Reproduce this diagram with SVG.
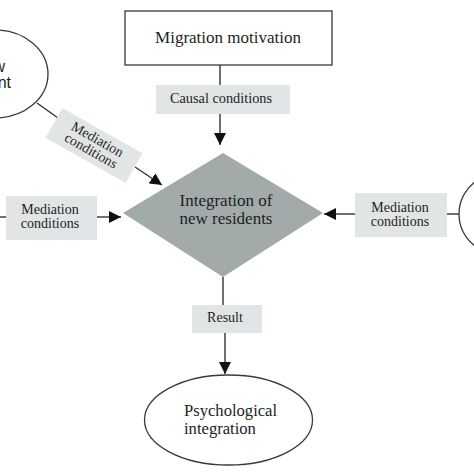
<svg xmlns="http://www.w3.org/2000/svg" width="474" height="474" viewBox="0 0 474 474">
<defs>
<style>
.bg{fill:#ffffff}
.node{fill:#ffffff;stroke:#3a3a3a;stroke-width:1.3}
.lbl{fill:#e2e5e5;stroke:none}
.dia{fill:#a3abaa;stroke:none}
.t{font-family:"Liberation Serif","Times New Roman",serif;fill:#1e1e1e}
.s{font-family:"Liberation Sans",Arial,sans-serif;fill:#1e1e1e}
.ln{stroke:#333333;stroke-width:1.4;fill:none}
</style>
<marker id="ah" markerUnits="userSpaceOnUse" markerWidth="12" markerHeight="12" refX="12" refY="6" orient="auto">
<path d="M0,0 L12,6 L0,12 z" fill="#111111"/>
</marker>
</defs>
<rect class="bg" x="0" y="0" width="474" height="474"/>

<g id="connectors">
<line class="ln" x1="220" y1="65" x2="220" y2="85"/>
<line class="ln" x1="220" y1="114" x2="220" y2="145" marker-end="url(#ah)"/>
<line class="ln" x1="37" y1="103" x2="58" y2="118"/>
<line class="ln" x1="135" y1="167" x2="162" y2="185" marker-end="url(#ah)"/>
<line class="ln" x1="0" y1="217" x2="6" y2="217"/>
<line class="ln" x1="97" y1="217" x2="121" y2="217" marker-end="url(#ah)"/>
<line class="ln" x1="447" y1="214" x2="459" y2="214"/>
<line class="ln" x1="355" y1="214" x2="324" y2="214" marker-end="url(#ah)"/>
<line class="ln" x1="223" y1="277" x2="223" y2="305"/>
<line class="ln" x1="225" y1="333" x2="225" y2="374" marker-end="url(#ah)"/>
</g>

<g id="migration-motivation">
<rect class="node" x="125" y="11" width="207" height="54"/>
<text class="t" x="228" y="43" font-size="17" text-anchor="middle">Migration motivation</text>
</g>

<g id="causal-conditions">
<rect class="lbl" x="156" y="85" width="134" height="29"/>
<text class="t" x="221" y="103" font-size="14.3" text-anchor="middle">Causal conditions</text>
</g>

<g id="left-ellipse">
<ellipse class="node" cx="-5" cy="74" rx="53" ry="44"/>
<text class="s" x="5" y="72" font-size="16" text-anchor="end">w</text>
<text class="s" x="11" y="88" font-size="16" text-anchor="end">nt</text>
</g>

<g id="mediation-tilted" transform="translate(94,145.5) rotate(29.5)">
<rect class="lbl" x="-46" y="-17" width="92" height="34"/>
<text class="t" x="0" y="-2.5" font-size="14" text-anchor="middle">Mediation</text>
<text class="t" x="0" y="10.5" font-size="14" text-anchor="middle">conditions</text>
</g>

<g id="integration">
<polygon class="dia" points="223,153 323,213 223,277 123,213"/>
<text class="t" x="226" y="206" font-size="17" text-anchor="middle">Integration of</text>
<text class="t" x="226" y="224" font-size="17" text-anchor="middle">new residents</text>
</g>

<g id="mediation-left">
<rect class="lbl" x="6" y="196" width="91" height="44"/>
<text class="t" x="50" y="214" font-size="14" text-anchor="middle">Mediation</text>
<text class="t" x="50" y="228" font-size="14" text-anchor="middle">conditions</text>
</g>

<g id="mediation-right">
<rect class="lbl" x="355" y="193" width="92" height="44"/>
<text class="t" x="400" y="211.5" font-size="14" text-anchor="middle">Mediation</text>
<text class="t" x="400" y="225.5" font-size="14" text-anchor="middle">conditions</text>
</g>

<g id="right-ellipse">
<ellipse class="node" cx="509" cy="214" rx="50" ry="44"/>
</g>

<g id="result">
<rect class="lbl" x="192" y="305" width="70" height="28"/>
<text class="t" x="225" y="322" font-size="14" text-anchor="middle">Result</text>
</g>

<g id="psychological-integration">
<ellipse class="node" cx="228.5" cy="420" rx="84" ry="45"/>
<text class="t" x="184" y="416" font-size="16.6">Psychological</text>
<text class="t" x="184" y="434" font-size="16.6">integration</text>
</g>
</svg>
